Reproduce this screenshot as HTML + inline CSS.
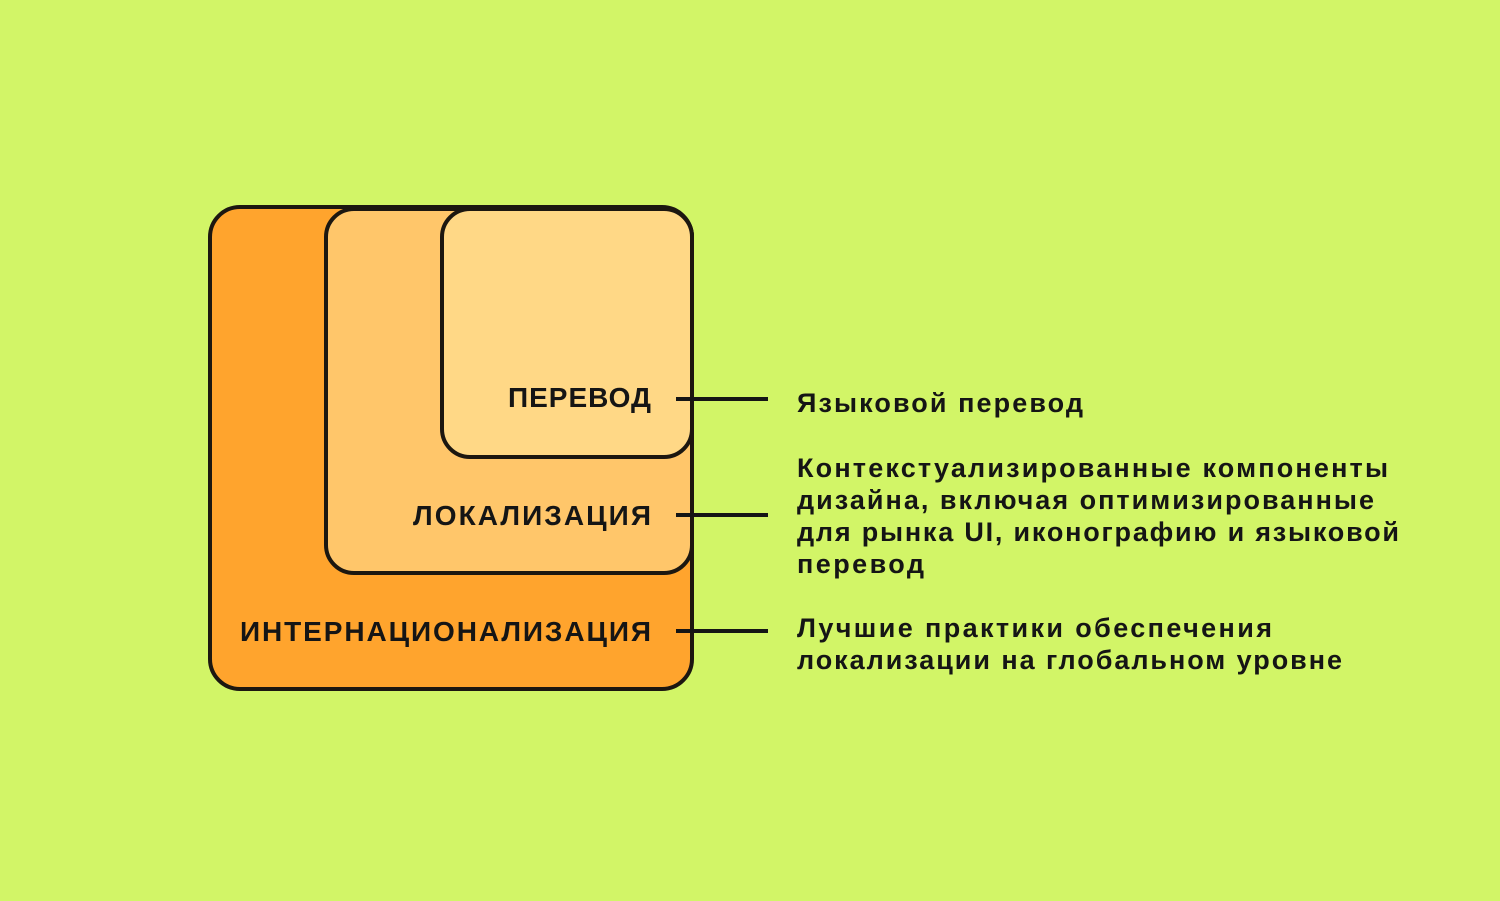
<!DOCTYPE html>
<html><head><meta charset="utf-8"><style>
html,body{margin:0;padding:0;background:#d2f567;}
svg text{font-family:"Liberation Sans","DejaVu Sans",sans-serif;font-weight:bold;fill:#151515;}
</style></head><body>
<svg width="1500" height="896" viewBox="0 0 1500 896" xmlns="http://www.w3.org/2000/svg">
<rect width="1500" height="896" fill="#d2f567"/>
<rect x="210" y="207" width="482" height="482" rx="30" fill="#ffa42d" stroke="#1c1710" stroke-width="4"/>
<rect x="326" y="209" width="366" height="364" rx="28" fill="#ffc66a" stroke="#1c1710" stroke-width="4"/>
<rect x="442" y="209" width="250" height="248" rx="28" fill="#ffd886" stroke="#1c1710" stroke-width="4"/>
<g stroke="#151515" stroke-width="4">
<line x1="676" y1="399" x2="768" y2="399"/>
<line x1="676" y1="515" x2="768" y2="515"/>
<line x1="676" y1="631" x2="768" y2="631"/>
</g>
<g font-size="28">
<text x="508" y="407" textLength="143" lengthAdjust="spacing">ПЕРЕВОД</text>
<text x="413" y="525" textLength="238" lengthAdjust="spacing">ЛОКАЛИЗАЦИЯ</text>
<text x="240" y="641" textLength="411" lengthAdjust="spacing">ИНТЕРНАЦИОНАЛИЗАЦИЯ</text>
</g>
<g font-size="27">
<text x="797" y="412" textLength="286" lengthAdjust="spacing">Языковой перевод</text>
<text x="797" y="477" textLength="591" lengthAdjust="spacing">Контекстуализированные компоненты</text>
<text x="797" y="509" textLength="577" lengthAdjust="spacing">дизайна, включая оптимизированные</text>
<text x="797" y="541" textLength="602" lengthAdjust="spacing">для рынка UI, иконографию и языковой</text>
<text x="797" y="573" textLength="127" lengthAdjust="spacing">перевод</text>
<text x="797" y="637" textLength="475" lengthAdjust="spacing">Лучшие практики обеспечения</text>
<text x="797" y="669" textLength="545" lengthAdjust="spacing">локализации на глобальном уровне</text>
</g>
</svg>
</body></html>
